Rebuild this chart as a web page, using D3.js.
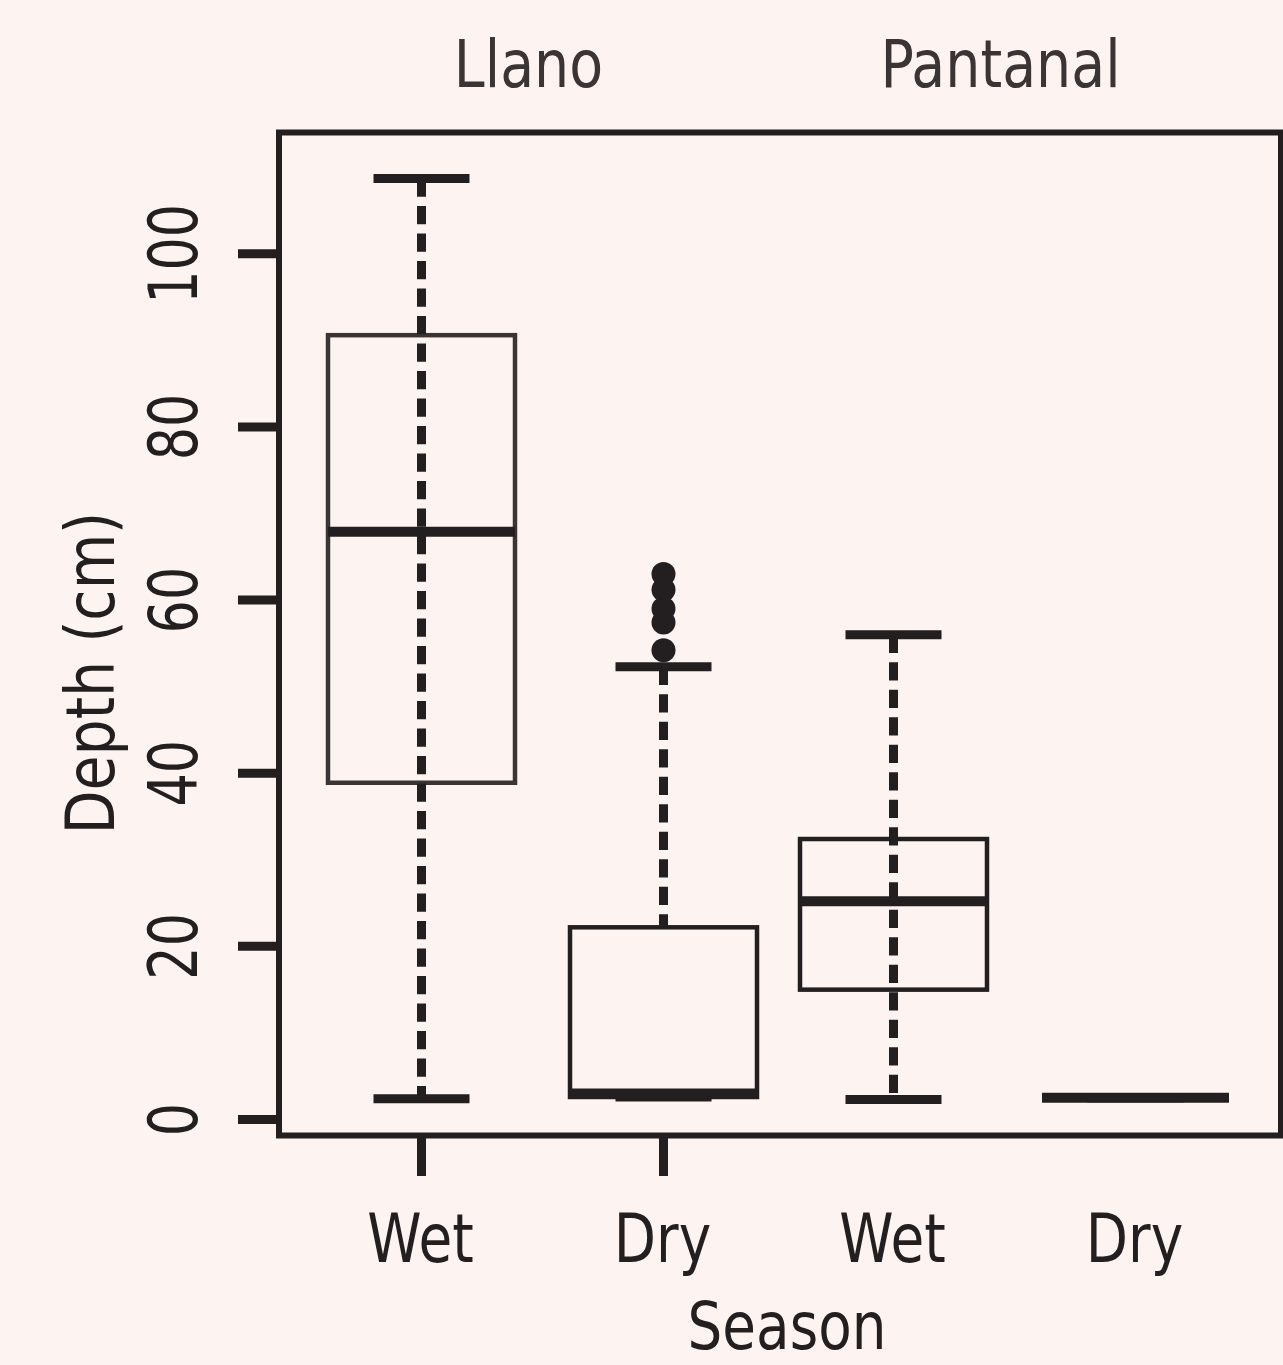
<!DOCTYPE html>
<html>
<head>
<meta charset="utf-8">
<script src="https://cdn.jsdelivr.net/npm/d3@7"></script>
<style>
  html, body { margin: 0; background: #fdf4f2; }
  svg { display: block; }
</style>
</head>
<body>
<svg id="chart" width="1283" height="1365"></svg>
<script>
  // data
  var sites = ['Llano', 'Pantanal'];
  var seasons = ['Wet', 'Dry'];
  var groupSite = ['Llano', 'Llano', 'Pantanal', 'Pantanal'];
  var groupSeason = ['Wet', 'Dry', 'Wet', 'Dry'];
  var lowWhisker = [2.4, 2.6, 2.3, 2.5];
  var q1 = [38.9, 2.6, 15.0, 2.5];
  var medians = [67.9, 3.0, 25.2, 2.5];
  var q3 = [90.6, 22.2, 32.4, 2.5];
  var highWhisker = [108.7, 52.3, 56.0, 2.5];
  var outliers = [[], [54.2, 57.4, 59.0, 61.2, 63.0], [], []];
  var yTicks = [0, 20, 40, 60, 80, 100];
  var tickedSites = ['Llano'];

  var ink = '#231f20',
    titleInk = '#3a3435',
    font = 'DejaVu Sans',
    boxW = 187,
    capW = 96;

  var svg = d3.select('#chart');

  var y = d3.scaleLinear().domain([0, 100]).range([1119.5, 253.8]);
  var xSite = d3.scalePoint().domain(sites).range([542.5, 1014.5]);
  var xSeason = d3.scalePoint().domain(seasons).range([-121, 121]);

  function xPos(i) {
    return xSite(groupSite[i]) + xSeason(groupSeason[i]);
  }

  var groups = d3.range(groupSite.length).map(function (i) {
    return {
      i: i, x: xPos(i), lo: lowWhisker[i], q1: q1[i], med: medians[i],
      q3: q3[i], hi: highWhisker[i], out: outliers[i]
    };
  });

  // squeezed text helper
  function label(g, txt, x, yy, size, k, rot, color) {
    return g.append('text')
      .attr('transform', 'translate(' + x + ',' + yy + ')' + (rot ? ' rotate(-90)' : '') + ' scale(' + k + ',1)')
      .attr('text-anchor', 'middle')
      .attr('font-family', font)
      .attr('font-size', size)
      .attr('fill', color || ink)
      .text(txt);
  }

  // frame
  svg.append('rect')
    .attr('x', 279).attr('y', 132.5)
    .attr('width', 1002).attr('height', 1003)
    .attr('fill', 'none').attr('stroke', ink).attr('stroke-width', 6);

  // y axis ticks + labels
  var yAxis = svg.append('g');
  yAxis.selectAll('line').data(yTicks).enter().append('line')
    .attr('x1', 238).attr('x2', 279)
    .attr('y1', function (d) { return y(d); })
    .attr('y2', function (d) { return y(d); })
    .attr('stroke', ink).attr('stroke-width', 9);
  yTicks.forEach(function (d) {
    label(yAxis, d, 197, y(d), 68, 0.77, true);
  });
  label(svg, 'Depth (cm)', 114, 673, 67, 0.85, true);

  // x ticks (only drawn for the first panel)
  var xTicks = groups.filter(function (g) { return tickedSites.indexOf(groupSite[g.i]) >= 0; });
  svg.append('g').selectAll('line').data(xTicks).enter().append('line')
    .attr('x1', function (d) { return d.x; }).attr('x2', function (d) { return d.x; })
    .attr('y1', 1135).attr('y2', 1176)
    .attr('stroke', ink).attr('stroke-width', 9);

  groups.forEach(function (g) {
    label(svg, groupSeason[g.i], g.x - 1, 1262, 67, 0.82, false);
  });
  label(svg, 'Season', 787, 1349, 66, 0.83, false);

  sites.forEach(function (s) {
    label(svg, s, xSite(s) - 14, 87, 66, 0.84, false, titleInk);
  });

  // boxes
  var plot = svg.append('g');

  plot.selectAll('rect.box').data(groups).enter().append('rect')
    .attr('class', 'box')
    .attr('x', function (d) { return d.x - boxW / 2; })
    .attr('y', function (d) { return y(d.q3); })
    .attr('width', boxW)
    .attr('height', function (d) { return y(d.q1) - y(d.q3); })
    .attr('fill', 'none')
    .attr('stroke', function (d) { return d.i === 0 ? '#3a3435' : ink; })
    .attr('stroke-width', 4.5);

  // dashed whisker, drawn from the top down
  plot.selectAll('line.whisker').data(groups).enter().append('line')
    .attr('class', 'whisker')
    .attr('x1', function (d) { return d.x; }).attr('x2', function (d) { return d.x; })
    .attr('y1', function (d) { return y(d.hi); })
    .attr('y2', function (d) { return d.lo < d.q1 ? y(d.lo) : y(d.q3); })
    .attr('stroke', ink).attr('stroke-width', 9)
    .attr('stroke-dasharray', '18.3,9.2');

  var caps = [];
  groups.forEach(function (g) { caps.push({ x: g.x, v: g.hi }, { x: g.x, v: g.lo }); });
  plot.selectAll('line.cap').data(caps).enter().append('line')
    .attr('class', 'cap')
    .attr('x1', function (d) { return d.x - capW / 2; })
    .attr('x2', function (d) { return d.x + capW / 2; })
    .attr('y1', function (d) { return y(d.v); })
    .attr('y2', function (d) { return y(d.v); })
    .attr('stroke', ink).attr('stroke-width', 9);

  plot.selectAll('line.median').data(groups).enter().append('line')
    .attr('class', 'median')
    .attr('x1', function (d) { return d.x - boxW / 2; })
    .attr('x2', function (d) { return d.x + boxW / 2; })
    .attr('y1', function (d) { return y(d.med); })
    .attr('y2', function (d) { return y(d.med); })
    .attr('stroke', ink).attr('stroke-width', 10);

  var pts = [];
  groups.forEach(function (g) { g.out.forEach(function (v) { pts.push({ x: g.x, v: v }); }); });
  plot.selectAll('circle').data(pts).enter().append('circle')
    .attr('cx', function (d) { return d.x; })
    .attr('cy', function (d) { return y(d.v); })
    .attr('r', 12)
    .attr('fill', ink);
</script>
</body>
</html>
